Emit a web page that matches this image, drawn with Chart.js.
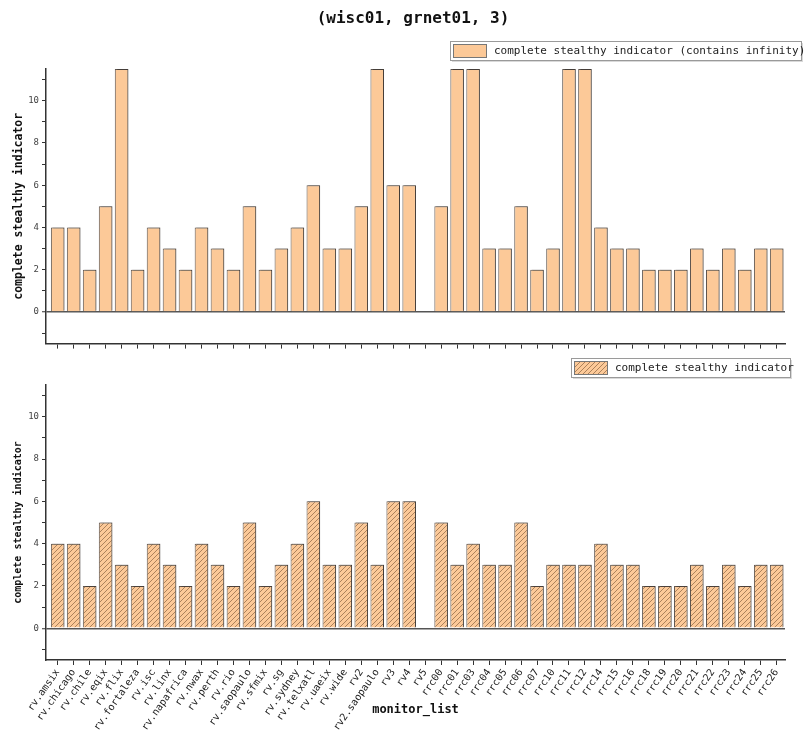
<!DOCTYPE html>
<html>
<head>
<meta charset="utf-8">
<script src="https://cdn.jsdelivr.net/npm/chart.js@4/dist/chart.umd.min.js"></script>
<style>
  body { margin: 0; background: #fff; }
  #wrap { position: relative; width: 804px; height: 734px; }
  canvas { position: absolute; left: 0; }
</style>
</head>
<body>
<div id="wrap">
  <canvas id="topChart" width="804" height="352" style="top:0"></canvas>
  <canvas id="bottomChart" width="804" height="382" style="top:352px"></canvas>
</div>
<script>
// monitors on the x axis
const monitors = ['rv.amsix', 'rv.chicago', 'rv.chile', 'rv.eqix', 'rv.flix', 'rv.fortaleza', 'rv.isc', 'rv.linx',
  'rv.napafrica', 'rv.nwax', 'rv.perth', 'rv.rio', 'rv.saopaulo', 'rv.sfmix', 'rv.sg', 'rv.sydney', 'rv.telxatl',
  'rv.uaeix', 'rv.wide', 'rv2', 'rv2.saopaulo', 'rv3', 'rv4', 'rv5', 'rrc00', 'rrc01', 'rrc03', 'rrc04', 'rrc05',
  'rrc06', 'rrc07', 'rrc10', 'rrc11', 'rrc12', 'rrc14', 'rrc15', 'rrc16', 'rrc18', 'rrc19', 'rrc20', 'rrc21',
  'rrc22', 'rrc23', 'rrc24', 'rrc25', 'rrc26'];

// top panel (Infinity = bar runs off the top)
const withInfinity = [4, 4, 2, 5, Infinity, 2, 4, 3, 2, 4, 3, 2, 5, 2, 3, 4, 6, 3, 3, 5, Infinity, 6, 6, null,
  5, Infinity, Infinity, 3, 3, 5, 2, 3, Infinity, Infinity, 4, 3, 3, 2, 2, 2, 3, 2, 3, 2, 3, 3];

// bottom panel
const stealthy = [4, 4, 2, 5, 3, 2, 4, 3, 2, 4, 3, 2, 5, 2, 3, 4, 6, 3, 3, 5, 3, 6, 6, null,
  5, 3, 4, 3, 3, 5, 2, 3, 3, 3, 4, 3, 3, 2, 2, 2, 3, 2, 3, 2, 3, 3];

const yTicks = [0, 2, 4, 6, 8, 10];
const yMinor = [-1, 1, 3, 5, 7, 9, 11];
const Y_MIN = -1.5, Y_MAX = 11.5;

const FILL = 'rgb(252,201,152)';
const EDGE = 'rgb(95,85,78)';
const MONO = '"DejaVu Sans Mono", "Liberation Mono", monospace';

function makeHatch() {
  const s = 5;
  const c = document.createElement('canvas');
  c.width = s; c.height = s;
  const g = c.getContext('2d');
  g.fillStyle = FILL;
  g.fillRect(0, 0, s, s);
  g.strokeStyle = 'rgba(115,80,50,0.75)';
  g.lineWidth = 0.8;
  g.beginPath();
  g.moveTo(0, s); g.lineTo(s, 0);
  g.moveTo(-s, s); g.lineTo(s, -s);
  g.moveTo(0, 2 * s); g.lineTo(2 * s, 0);
  g.stroke();
  return g.createPattern(c, 'repeat');
}
const hatch = makeHatch();

function toPoints(values) {
  return values.map((v, i) => ({ x: i, y: v === Infinity ? Y_MAX : v }));
}

// bar shadow
const shadowPlugin = {
  id: 'barShadow',
  beforeDatasetsDraw(chart) {
    const ctx = chart.ctx;
    ctx.save();
    ctx.shadowColor = 'rgba(0,0,0,0.28)';
    ctx.shadowOffsetX = 1.5;
    ctx.shadowOffsetY = -1;
    ctx.shadowBlur = 0;
  },
  afterDatasetsDraw(chart) {
    chart.ctx.restore();
  }
};

// framed legend box and optional title
const boxPlugin = {
  id: 'boxLegend',
  afterDraw(chart, args, opts) {
    const ctx = chart.ctx;
    ctx.save();
    if (opts.title) {
      ctx.font = 'bold 16px ' + MONO;
      ctx.fillStyle = '#111';
      ctx.textAlign = 'center';
      ctx.textBaseline = 'middle';
      ctx.fillText(opts.title, opts.titleX, opts.titleY);
    }
    const b = opts.box;
    ctx.fillStyle = 'rgba(0,0,0,0.15)';
    ctx.fillRect(b.x + 2, b.y + 2, b.w, b.h);
    ctx.fillStyle = '#fff';
    ctx.fillRect(b.x, b.y, b.w, b.h);
    ctx.strokeStyle = '#9a9a9a';
    ctx.lineWidth = 1;
    ctx.strokeRect(b.x + 0.5, b.y + 0.5, b.w, b.h);
    ctx.fillStyle = opts.patch;
    ctx.fillRect(b.x + 3, b.y + 3, 33, b.h - 6);
    ctx.strokeStyle = '#777';
    ctx.strokeRect(b.x + 3.5, b.y + 3.5, 33, b.h - 6);
    ctx.font = '11px ' + MONO;
    ctx.fillStyle = '#222';
    ctx.textAlign = 'left';
    ctx.textBaseline = 'middle';
    ctx.fillText(opts.text, b.x + 44, b.y + b.h / 2 + 1);
    ctx.restore();
  }
};

function makeOptions(cfg) {
  return {
    responsive: false,
    animation: false,
    devicePixelRatio: 1,
    layout: { padding: { left: 0, right: 19, top: cfg.padTop, bottom: 0 } },
    plugins: {
      legend: { display: false },
      title: { display: false },
      tooltip: { enabled: false },
      boxLegend: cfg.box
    },
    datasets: { bar: { barPercentage: 0.85, categoryPercentage: 1 } },
    scales: {
      x: {
        type: 'linear',
        min: -0.73,
        max: 45.52,
        offset: false,
        grid: { offset: false, drawOnChartArea: false, drawTicks: true, tickLength: 5, tickColor: '#333' },
        border: { display: true, color: '#333', width: 1.5 },
        afterBuildTicks: s => { s.ticks = monitors.map((m, i) => ({ value: i })); },
        ticks: {
          autoSkip: false,
          minRotation: cfg.showLabels ? 55 : 0,
          maxRotation: cfg.showLabels ? 55 : 0,
          padding: 2,
          color: '#222',
          font: { family: MONO, size: 10 },
          callback: v => (cfg.showLabels ? monitors[v] : '')
        },
        title: {
          display: cfg.showLabels,
          text: 'monitor_list',
          color: '#111',
          font: { family: MONO, size: 12, weight: 'bold' },
          padding: { top: 0, bottom: 17 }
        },
        afterFit: s => { s.height = cfg.xHeight; }
      },
      y: {
        min: Y_MIN,
        max: Y_MAX,
        grid: {
          drawOnChartArea: true,
          drawTicks: true,
          tickLength: 4,
          tickColor: '#333',
          tickWidth: 1,
          color: c => (c.tick && c.tick.value === 0 ? '#555' : 'rgba(0,0,0,0)'),
          lineWidth: c => (c.tick && c.tick.value === 0 ? 1.5 : 1)
        },
        border: { display: true, color: '#333', width: 1.5 },
        afterBuildTicks: s => {
          s.ticks = yTicks.concat(yMinor).sort((a, b) => a - b).map(v => ({ value: v }));
        },
        ticks: {
          padding: 3,
          color: '#444',
          font: { family: MONO, size: 9 },
          callback: v => (yTicks.includes(v) ? String(v) : '')
        },
        title: {
          display: true,
          text: 'complete stealthy indicator',
          color: '#111',
          font: { family: MONO, size: cfg.yTitleSize, weight: 'bold' },
          padding: { top: 12, bottom: 0 }
        },
        afterFit: s => { s.width = 46; }
      }
    }
  };
}

new Chart(document.getElementById('topChart'), {
  type: 'bar',
  data: {
    datasets: [{
      label: 'complete stealthy indicator (contains infinity)',
      data: toPoints(withInfinity),
      backgroundColor: FILL,
      borderColor: EDGE,
      borderWidth: 1
    }]
  },
  options: makeOptions({
    padTop: 69, xHeight: 7, showLabels: false, yTitleSize: 11.5,
    box: {
      title: '(wisc01, grnet01, 3)', titleX: 413, titleY: 19,
      box: { x: 450, y: 41, w: 351, h: 19 },
      patch: FILL,
      text: 'complete stealthy indicator (contains infinity)'
    }
  }),
  plugins: [shadowPlugin, boxPlugin]
});

new Chart(document.getElementById('bottomChart'), {
  type: 'bar',
  data: {
    datasets: [{
      label: 'complete stealthy indicator',
      data: toPoints(stealthy),
      backgroundColor: hatch,
      borderColor: EDGE,
      borderWidth: 1
    }]
  },
  options: makeOptions({
    padTop: 33, xHeight: 74, showLabels: true, yTitleSize: 10,
    box: {
      box: { x: 571, y: 6, w: 219, h: 19 },
      patch: hatch,
      text: 'complete stealthy indicator'
    }
  }),
  plugins: [shadowPlugin, boxPlugin]
});
</script>
</body>
</html>
